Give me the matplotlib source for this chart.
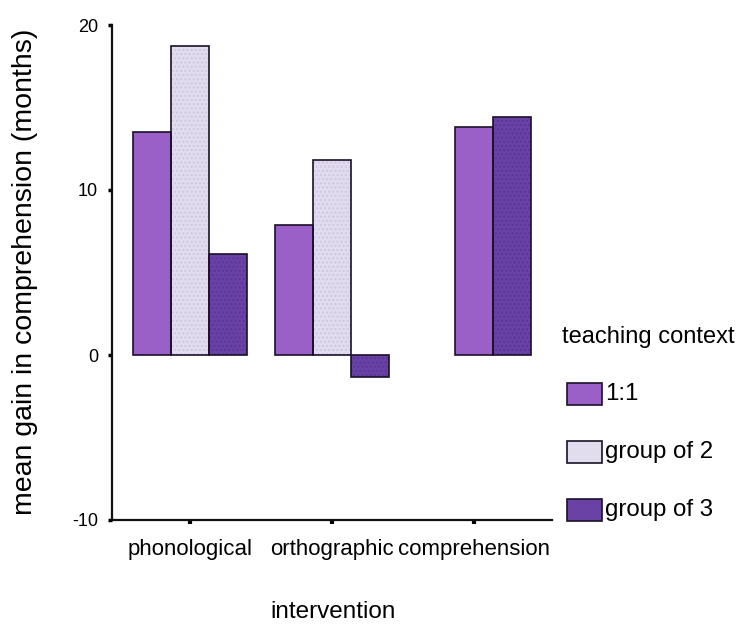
import numpy as np
import matplotlib
matplotlib.use('Agg')
import matplotlib.pyplot as plt
from matplotlib.patches import Rectangle

plt.rcParams['font.family'] = ['Liberation Sans', 'DejaVu Sans']

# data
interventions = ['phonological', 'orthographic', 'comprehension']
groups = ['1:1', 'group of 2', 'group of 3']
gain_1to1 = [13.5, 7.9, 13.8]
gain_group2 = [18.7, 11.8, np.nan]   # no group-of-2 bar for comprehension
gain_group3 = [6.1, -1.35, 14.4]
yticks = [-10, 0, 10, 20]

colors = ['#9a60c8', '#e2dcef', '#6a42a6']
dots = ['#9a60c8', '#cfc6e3', '#5a3496']

series = [gain_1to1, gain_group2, gain_group3]
W, H = 740, 624
fig = plt.figure(figsize=(W / 100, H / 100), dpi=100)
ax = fig.add_axes([112 / W, 1 - 520 / H, (552 - 112) / W, (520 - 25) / H])

bw = 0.268
for i, cat in enumerate(interventions):
    present = [g for g in range(len(groups)) if not np.isnan(series[g][i])]
    # SPSS packs the bars into the right-hand slots when one is missing
    slots = [-1, 0, 1][-len(present):]
    for g, s in zip(present, slots):
        x = i + s * bw
        ax.bar(x, series[g][i], bw, color=colors[g], edgecolor=dots[g],
               hatch='....', linewidth=0, zorder=2)
        ax.bar(x, series[g][i], bw, fill=False, edgecolor='#1a1028',
               linewidth=1.2, zorder=3)

ax.set_xlim(-0.55, 2.55)
ax.set_ylim(-10, 20)
ax.set_xticks(range(len(interventions)))
ax.set_xticklabels(interventions, fontsize=16)
ax.set_yticks(yticks)
ax.set_yticklabels([str(t) for t in yticks], fontsize=13)
ax.tick_params(axis='y', direction='out', length=3, width=2.5, pad=7)
ax.tick_params(axis='x', direction='out', length=3, width=3, pad=11)
for sp in ['top', 'right']:
    ax.spines[sp].set_visible(False)
for sp in ['left', 'bottom']:
    ax.spines[sp].set_linewidth(1.6)
    ax.spines[sp].set_color('#111111')

fig.text(25 / W, 1 - 272 / H, 'mean gain in comprehension (months)',
         rotation=90, ha='center', va='center', fontsize=20.5)
fig.text(333 / W, 1 - 612 / H, 'intervention', ha='center', va='center',
         fontsize=17.5)

# legend drawn by hand to match the SPSS layout
fig.text(562 / W, 1 - 337 / H, 'teaching context', ha='left', va='center',
         fontsize=17)
for k, g in enumerate(groups):
    yc = 394 + k * 58
    fig.add_artist(Rectangle((567 / W, 1 - (yc + 11) / H), 35 / W, 22 / H,
                             transform=fig.transFigure, facecolor=colors[k],
                             edgecolor='#1a1028', linewidth=1.2))
    fig.text(605 / W, 1 - yc / H, g, ha='left', va='center', fontsize=17.3)

fig.savefig('out.png', dpi=100)
